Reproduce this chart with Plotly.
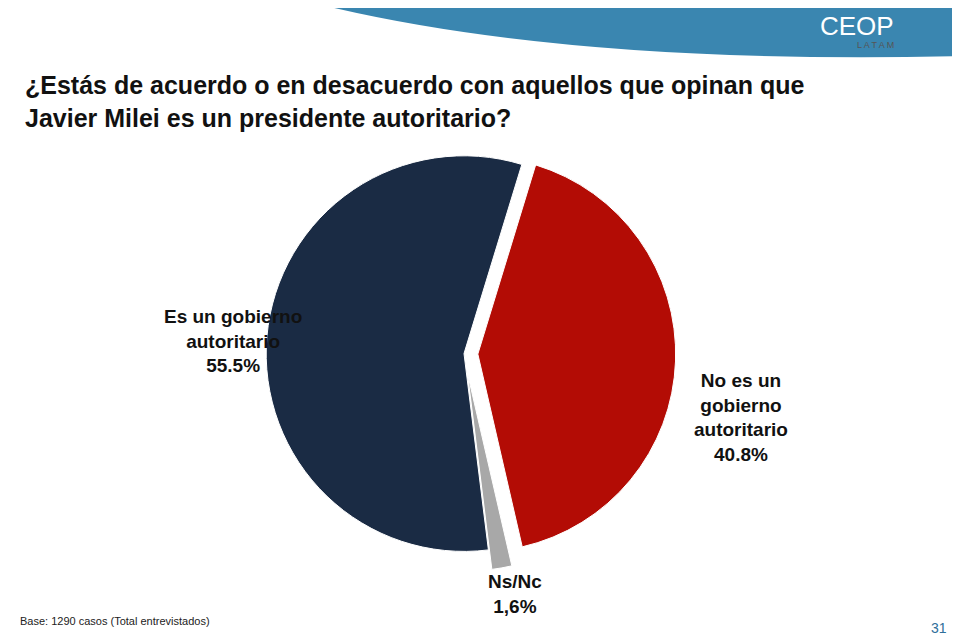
import plotly.graph_objects as go

labels = ["No es un gobierno autoritario", "Ns/Nc", "Es un gobierno autoritario"]
values = [40.8, 1.6, 55.5]
colors = ["#b30c05", "#a8a8a8", "#1a2b44"]
pulls = [0.07, 0.1, 0]

fig = go.Figure(go.Pie(
    labels=labels, values=values, sort=False, direction="clockwise", rotation=17,
    pull=pulls, marker=dict(colors=colors, line=dict(color="white", width=1)),
    textinfo="none", hoverinfo="label+percent", showlegend=False,
    domain=dict(x=[0.235, 0.715], y=[0.12, 0.80])))

fig.update_layout(
    width=960, height=640, margin=dict(l=0, r=0, t=0, b=0),
    paper_bgcolor="white", plot_bgcolor="white", font=dict(family="Liberation Sans"),
    shapes=[dict(type="path", xref="paper", yref="paper",
                 path="M 0.34 1 Q 0.6 0.91 1 0.925 L 1 1 Z",
                 fillcolor="#3a86b0", line=dict(width=0))])

ann = [
    dict(x=0.016, y=0.905, text="<b>¿Estás de acuerdo o en desacuerdo con aquellos que opinan que<br>Javier Milei es un presidente autoritario?</b>",
         font=dict(size=25, color="#111"), xanchor="left", yanchor="top", align="left"),
    dict(x=0.16, y=0.48, text="<b>Es un gobierno<br>autoritario<br>55.5%</b>", font=dict(size=19, color="#111")),
    dict(x=0.815, y=0.36, text="<b>No es un<br>gobierno<br>autoritario<br>40.8%</b>", font=dict(size=19, color="#111")),
    dict(x=0.528, y=0.045, text="<b>Ns/Nc<br>1,6%</b>", font=dict(size=19, color="#111")),
    dict(x=0.01, y=0.03, text="Base: 1290 casos (Total entrevistados)", font=dict(size=11, color="#222"), xanchor="left"),
    dict(x=0.97, y=0.015, text="31", font=dict(size=14, color="#2f6f9a"), xanchor="center"),
    dict(x=0.925, y=0.972, text="CEOP", font=dict(size=26, color="white"), yanchor="middle"),
    dict(x=0.925, y=0.942, text="L A T A M", font=dict(size=9, color="#555"), yanchor="middle"),
]
for a in ann:
    a.setdefault("xref", "paper"); a.setdefault("yref", "paper"); a["showarrow"] = False
fig.update_layout(annotations=ann)
fig.write_html("out.html")
